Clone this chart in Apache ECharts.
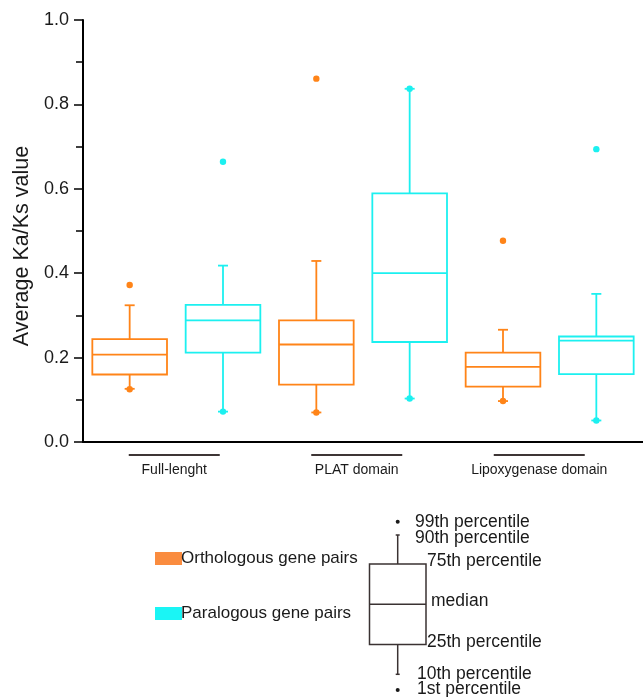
<!DOCTYPE html>
<html>
<head>
<meta charset="utf-8">
<script src="https://cdn.jsdelivr.net/npm/echarts@6.0.0/dist/echarts.min.js"></script>
<style>
html, body { margin: 0; padding: 0; background: #fff; }
#chart { width: 643px; height: 697px; }
</style>
</head>
<body>
<div id="chart"></div>
<script>
var categories = ['Full-lenght', 'PLAT domain', 'Lipoxygenase domain'];
var yTicks = [0, 0.2, 0.4, 0.6, 0.8, 1.0];

// Orthologous gene pairs
var orthoP1 = [0.125, 0.070, 0.097];
var orthoP10 = [0.126, 0.070, 0.097];
var orthoQ1 = [0.160, 0.136, 0.131];
var orthoMedian = [0.207, 0.231, 0.178];
var orthoQ3 = [0.244, 0.288, 0.212];
var orthoP90 = [0.324, 0.429, 0.266];
var orthoP99 = [0.372, 0.861, 0.477];

// Paralogous gene pairs
var paraP1 = [0.072, 0.103, 0.051];
var paraP10 = [0.072, 0.103, 0.051];
var paraQ1 = [0.212, 0.237, 0.161];
var paraMedian = [0.288, 0.400, 0.240];
var paraQ3 = [0.325, 0.589, 0.250];
var paraP90 = [0.418, 0.837, 0.351];
var paraP99 = [0.664, 0.837, 0.694];

var orange = '#FF8418';
var cyan = '#1CF0F0';

function buildData(p1, p10, q1, med, q3, p90, p99) {
  return categories.map(function (c, i) {
    return [i, p1[i], p10[i], q1[i], med[i], q3[i], p90[i], p99[i]];
  });
}

// draws one box: offset left/right inside its category band
function makeBoxRenderer(side, color) {
  return function (params, api) {
    var band = api.size([1, 0])[0];
    var cx = api.coord([api.value(0), 0])[0] + side * band / 4;
    var half = band * 0.2;
    var y = function (dim) { return api.coord([api.value(0), api.value(dim)])[1]; };
    var yP1 = y(1), yP10 = y(2), yQ1 = y(3), yMed = y(4), yQ3 = y(5), yP90 = y(6), yP99 = y(7);
    var ls = { stroke: color, lineWidth: 1.8, fill: 'none' };
    var cap = 5;
    return {
      type: 'group',
      children: [
        { type: 'rect', shape: { x: cx - half, y: yQ3, width: half * 2, height: yQ1 - yQ3 }, style: ls },
        { type: 'line', shape: { x1: cx - half, y1: yMed, x2: cx + half, y2: yMed }, style: ls },
        { type: 'line', shape: { x1: cx, y1: yQ3, x2: cx, y2: yP90 }, style: ls },
        { type: 'line', shape: { x1: cx - cap, y1: yP90, x2: cx + cap, y2: yP90 }, style: ls },
        { type: 'line', shape: { x1: cx, y1: yQ1, x2: cx, y2: yP10 }, style: ls },
        { type: 'line', shape: { x1: cx - cap, y1: yP10, x2: cx + cap, y2: yP10 }, style: ls },
        { type: 'circle', shape: { cx: cx, cy: yP1, r: 3.2 }, style: { fill: color } },
        { type: 'circle', shape: { cx: cx, cy: yP99, r: 3.2 }, style: { fill: color } }
      ]
    };
  };
}

var keyColor = '#3a3232';
var keyFont = '17.5px Arial, "Liberation Sans", sans-serif';
function keyText(x, y, t) {
  return { type: 'text', x: x, y: y, style: { text: t, font: keyFont, fill: '#1a1a1a', textVerticalAlign: 'middle' } };
}

var myChart = echarts.init(document.getElementById('chart'));
var option = {
  animation: false,
  textStyle: { fontFamily: 'Arial, "Liberation Sans", sans-serif' },
  grid: [
    { left: 83, top: 20, width: 568, height: 422 },
    { left: 83, top: 20, width: 547.5, height: 422 }
  ],
  xAxis: [
    {
      type: 'category', gridIndex: 0, data: categories,
      axisLine: { lineStyle: { color: '#000', width: 2 } },
      axisTick: { show: false }, axisLabel: { show: false }
    },
    {
      type: 'category', gridIndex: 1, data: categories,
      axisLine: { show: false }, axisTick: { show: false },
      axisLabel: {
        margin: 10, interval: 0,
        formatter: function (v) { return '{bar| }\n{txt|' + v + '}'; },
        rich: {
          bar: { width: 91, height: 2, lineHeight: 6, backgroundColor: '#3d3535' },
          txt: { fontSize: 14, lineHeight: 24, color: '#1a1a1a' }
        }
      }
    }
  ],
  yAxis: [
    {
      type: 'value', gridIndex: 0, min: 0, max: 1, interval: 0.2,
      name: 'Average Ka/Ks value', nameLocation: 'middle', nameGap: 48,
      nameTextStyle: { fontSize: 21.5, color: '#1a1a1a', padding: [0, 30, 0, 0] },
      axisLine: { show: true, lineStyle: { color: '#000', width: 2 } },
      axisTick: { show: true, length: 9, lineStyle: { color: '#000', width: 1.5 } },
      minorTick: { show: true, splitNumber: 2, length: 7, lineStyle: { color: '#000', width: 1.5 } },
      axisLabel: {
        fontSize: 18, color: '#1a1a1a', margin: 14,
        formatter: function (v) { return yTicks.indexOf(+v.toFixed(1)) >= 0 ? v.toFixed(1) : ''; }
      },
      splitLine: { show: false }
    },
    { type: 'value', gridIndex: 1, show: false, min: 0, max: 1 }
  ],
  legend: {
    orient: 'vertical', left: 150, top: 545,
    itemWidth: 27, itemHeight: 13, itemGap: 38,
    icon: 'rect',
    textStyle: { fontSize: 17, color: '#1a1a1a', padding: [4, 0, 0, -6] },
    data: [
      { name: 'Orthologous gene pairs', itemStyle: { color: '#FA8C3F' } },
      { name: 'Paralogous gene pairs', itemStyle: { color: '#1AF5F5' } }
    ]
  },
  series: [
    {
      name: 'Orthologous gene pairs', type: 'custom',
      xAxisIndex: 0, yAxisIndex: 0,
      itemStyle: { color: '#FA8C3F' },
      renderItem: makeBoxRenderer(-1, orange),
      encode: { x: 0, y: [1, 2, 3, 4, 5, 6, 7] },
      data: buildData(orthoP1, orthoP10, orthoQ1, orthoMedian, orthoQ3, orthoP90, orthoP99)
    },
    {
      name: 'Paralogous gene pairs', type: 'custom',
      xAxisIndex: 0, yAxisIndex: 0,
      itemStyle: { color: '#1AF5F5' },
      renderItem: makeBoxRenderer(1, cyan),
      encode: { x: 0, y: [1, 2, 3, 4, 5, 6, 7] },
      data: buildData(paraP1, paraP10, paraQ1, paraMedian, paraQ3, paraP90, paraP99)
    }
  ],
  graphic: [
    {
      type: 'group', silent: true,
      children: [
        { type: 'rect', shape: { x: 369.5, y: 564, width: 56.5, height: 80.5 }, style: { stroke: keyColor, lineWidth: 1.5, fill: 'none' } },
        { type: 'line', shape: { x1: 369.5, y1: 604.3, x2: 426, y2: 604.3 }, style: { stroke: keyColor, lineWidth: 1.5 } },
        { type: 'line', shape: { x1: 397.7, y1: 564, x2: 397.7, y2: 535 }, style: { stroke: keyColor, lineWidth: 1.5 } },
        { type: 'line', shape: { x1: 395.7, y1: 535, x2: 399.7, y2: 535 }, style: { stroke: keyColor, lineWidth: 1.5 } },
        { type: 'line', shape: { x1: 397.7, y1: 644.5, x2: 397.7, y2: 674.3 }, style: { stroke: keyColor, lineWidth: 1.5 } },
        { type: 'line', shape: { x1: 395.7, y1: 674.3, x2: 399.7, y2: 674.3 }, style: { stroke: keyColor, lineWidth: 1.5 } },
        { type: 'circle', shape: { cx: 397.7, cy: 521.7, r: 2 }, style: { fill: '#1a1a1a' } },
        { type: 'circle', shape: { cx: 397.7, cy: 690, r: 2 }, style: { fill: '#1a1a1a' } },
        keyText(415, 521.7, '99th percentile'),
        keyText(415, 537.7, '90th percentile'),
        keyText(427, 560.7, '75th percentile'),
        keyText(431, 601.3, 'median'),
        keyText(427, 642.3, '25th percentile'),
        keyText(417, 673.7, '10th percentile'),
        keyText(417, 689.3, '1st percentile')
      ]
    }
  ]
};
option && myChart.setOption(option);
window.addEventListener('resize', function () { myChart.resize(); });
</script>
</body>
</html>
